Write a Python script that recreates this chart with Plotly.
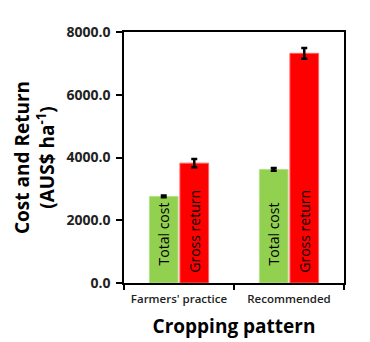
import plotly.graph_objects as go

categories = ["Farmers' practice", "Recommended"]
total_cost = [2760, 3620]
total_cost_err = [30, 45]
gross_return = [3820, 7320]
gross_return_err = [130, 170]
y_ticks = [0, 2000, 4000, 6000, 8000]

NB = "\u00a0"
fig = go.Figure()
fig.add_trace(go.Bar(
    x=categories, y=total_cost, name="Total cost",
    error_y=dict(type="data", array=total_cost_err, color="black", thickness=2.5, width=3),
    marker=dict(color="#92D050", line=dict(color="#B5E08A", width=1)),
    text=[NB * 4 + "Total cost"] * 2, textposition="inside", insidetextanchor="start",
    textangle=-90, constraintext="none",
    textfont=dict(family="Open Sans", size=14, color="black"),
))
fig.add_trace(go.Bar(
    x=categories, y=gross_return, name="Gross return",
    error_y=dict(type="data", array=gross_return_err, color="black", thickness=2.5, width=3),
    marker=dict(color="#FF0000", line=dict(color="#FF6060", width=1)),
    text=[NB * 2 + "Gross return"] * 2, textposition="inside", insidetextanchor="start",
    textangle=-90, constraintext="none",
    textfont=dict(family="Open Sans", size=14, color="black"),
))

fig.update_layout(
    width=370, height=342,
    margin=dict(l=124, r=26, t=32, b=59),
    paper_bgcolor="white", plot_bgcolor="white",
    barmode="group", bargap=0.445, bargroupgap=0.06,
    showlegend=False,
    font=dict(family="Open Sans", color="black"),
)
fig.update_xaxes(
    automargin=False, tickangle=0,
    showline=True, linecolor="black", linewidth=1.5, mirror=True,
    ticks="outside", tickson="boundaries", ticklen=5, tickcolor="black", tickwidth=1.5,
    ticklabelstandoff=4,
    tickfont=dict(family="Open Sans", size=11.5, color="#222", weight=600),
    title=dict(text="<b>Cropping pattern</b>", font=dict(family="Open Sans", size=19), standoff=15),
)
fig.update_yaxes(
    automargin=False,
    range=[0, 8000], tickvals=y_ticks, tickformat=".1f",
    showline=True, linecolor="black", linewidth=1.5, mirror=True,
    ticks="outside", ticklen=6, tickcolor="black", tickwidth=1.5,
    ticklabelstandoff=3,
    showgrid=False, zeroline=False,
    tickfont=dict(family="Open Sans", size=14, color="#222", weight="bold"),
    title=dict(text="<b>Cost and Return<br>(AUS$ ha<sup>-1</sup>)</b>",
               font=dict(family="Open Sans", size=19), standoff=7),
)
fig.write_html("out.html", config={"displayModeBar": False},
               post_script="document.body.style.margin='0px';")
